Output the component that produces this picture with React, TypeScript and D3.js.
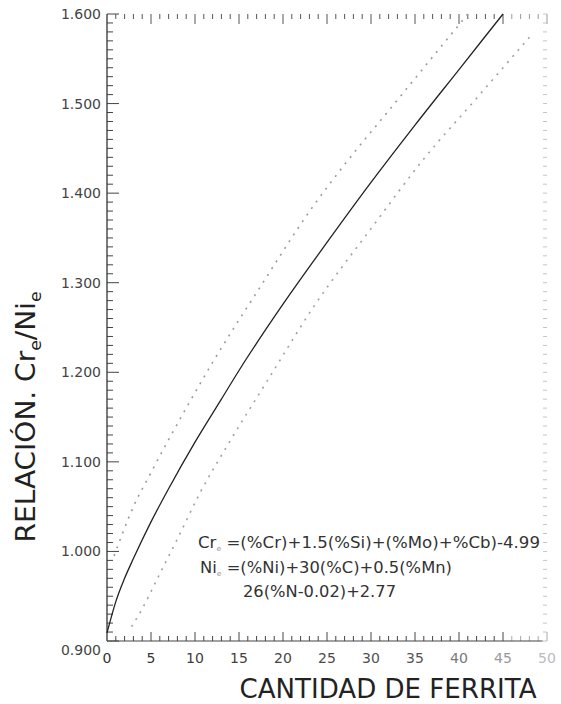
import React, { useRef, useEffect } from "react";
import * as d3 from "d3";

// Curva media y límites (cantidad de ferrita vs relación Cre/Nie)
const mediaX = [0, 1, 2, 3, 5, 7, 10, 13, 15, 20, 25, 30, 35, 40, 45];
const mediaY = [0.909, 0.944, 0.97, 0.992, 1.033, 1.07, 1.122, 1.17, 1.202, 1.276, 1.345, 1.412, 1.476, 1.538, 1.6];

const superiorX = [0.8, 3, 5, 9, 12, 17, 23.4, 27, 32, 36, 41];
const superiorY = [0.995, 1.05, 1.088, 1.16, 1.211, 1.289, 1.385, 1.432, 1.492, 1.54, 1.6];

const inferiorX = [2.8, 4, 6, 8, 10.6, 13.6, 18.5, 23.4, 30.2, 35.9, 42, 48];
const inferiorY = [0.916, 0.936, 0.975, 1.014, 1.066, 1.117, 1.195, 1.272, 1.363, 1.437, 1.506, 1.574];

const xTickLabels = [0, 5, 10, 15, 20, 25, 30, 35, 40, 45, 50];
const yTickLabels = [0.9, 1.0, 1.1, 1.2, 1.3, 1.4, 1.5, 1.6];

const formulaLines = [
  { main: "Cr", sub: "e", rest: " =(%Cr)+1.5(%Si)+(%Mo)+%Cb)-4.99" },
  { main: "Ni", sub: "e", rest: " =(%Ni)+30(%C)+0.5(%Mn)" },
  { main: "", sub: "", rest: "26(%N-0.02)+2.77" },
];

const FONT = "'DejaVu Sans', sans-serif";

const FerritaChart = ({ width = 561, height = 704 }) => {
  const ref = useRef<SVGSVGElement>(null);

  useEffect(() => {
    const container = ref.current;
    if (!container) return;
    d3.select(container).selectChildren().remove();

    const margin = { top: 14, left: 107, right: 14, bottom: 63 };
    const x = d3.scaleLinear().domain([0, 50]).range([margin.left, width - margin.right]);
    const y = d3.scaleLinear().domain([0.9, 1.6]).range([height - margin.bottom, margin.top]);

    const svg = d3.select(container).append("g").style("font-family", FONT);

    // Marcas eje X (abajo y arriba)
    const xt = x.ticks(50);
    svg
      .append("g")
      .selectAll("line")
      .data(xt.filter((d) => d > 0))
      .join("line")
      .attr("x1", (d) => x(d))
      .attr("x2", (d) => x(d))
      .attr("y1", y(0.9))
      .attr("y2", (d) => y(0.9) - (d % 5 === 0 ? 9 : 5))
      .attr("stroke", (d) => (d > 45 ? "#aaa" : "#444"))
      .attr("stroke-width", 1);

    svg
      .append("g")
      .selectAll("line")
      .data(xt.filter((d) => d > 0))
      .join("line")
      .attr("x1", (d) => x(d))
      .attr("x2", (d) => x(d))
      .attr("y1", y(1.6))
      .attr("y2", (d) => y(1.6) + (d % 5 === 0 ? 10 : 5))
      .attr("stroke", (d) => (d > 45 ? "#999" : "#555"))
      .attr("stroke-width", 1);

    // Marcas eje Y (izquierda y derecha)
    const yt = y.ticks(70);
    svg
      .append("g")
      .selectAll("line")
      .data(yt)
      .join("line")
      .attr("x1", x(0))
      .attr("x2", (d) => x(0) + (Math.round(d * 100) % 10 === 0 ? 12 : 6))
      .attr("y1", (d) => y(d))
      .attr("y2", (d) => y(d))
      .attr("stroke", "#444")
      .attr("stroke-width", 1);

    svg
      .append("g")
      .selectAll("line")
      .data(yt)
      .join("line")
      .attr("x1", x(50))
      .attr("x2", x(50) - 4)
      .attr("y1", (d) => y(d))
      .attr("y2", (d) => y(d))
      .attr("stroke", "#c4c4c4")
      .attr("stroke-width", 1);

    // Líneas de ejes
    svg
      .append("line")
      .attr("x1", x(0))
      .attr("x2", x(0))
      .attr("y1", y(1.6))
      .attr("y2", y(0.9))
      .attr("stroke", "#333")
      .attr("stroke-width", 1.3);
    svg
      .append("line")
      .attr("x1", x(0))
      .attr("x2", x(49.5))
      .attr("y1", y(0.9))
      .attr("y2", y(0.9))
      .attr("stroke", "#444")
      .attr("stroke-width", 1.2);

    // Rótulos de marcas
    const xColor = d3.scaleLinear<string>().domain([0, 35, 50]).range(["#333", "#555", "#bbb"]);
    svg
      .append("g")
      .selectAll("text")
      .data(xTickLabels)
      .join("text")
      .attr("x", (d) => x(d))
      .attr("y", y(0.9) + 22)
      .attr("text-anchor", "middle")
      .attr("font-size", 14)
      .attr("fill", (d) => xColor(d))
      .text((d) => d);

    svg
      .append("g")
      .selectAll("text")
      .data(yTickLabels)
      .join("text")
      .attr("x", x(0) - 6)
      .attr("y", (d) => y(d) + (d === 0.9 ? 9 : 0))
      .attr("dy", "0.36em")
      .attr("text-anchor", "end")
      .attr("font-size", 14)
      .attr("fill", "#444")
      .text((d) => d3.format(".3f")(d));

    // Curvas
    const line = d3
      .line<[number, number]>()
      .x((d) => x(d[0]))
      .y((d) => y(d[1]))
      .curve(d3.curveMonotoneX);

    const curves = [
      { xs: superiorX, ys: superiorY, color: "#9a9a9a", dash: "2,6", w: 1.6 },
      { xs: inferiorX, ys: inferiorY, color: "#a0a0a0", dash: "2,6", w: 1.6 },
      { xs: mediaX, ys: mediaY, color: "#222", dash: null, w: 1.3 },
    ];
    curves.forEach((c) => {
      svg
        .append("path")
        .datum(c.xs.map((v, i) => [v, c.ys[i]] as [number, number]))
        .attr("d", line)
        .attr("fill", "none")
        .attr("stroke", c.color)
        .attr("stroke-width", c.w)
        .attr("stroke-dasharray", c.dash);
    });

    // Fórmulas
    const formulaPos = [
      { x: 198, y: 548, len: 342 },
      { x: 200, y: 573, len: 252 },
      { x: 243, y: 597, len: 153 },
    ];
    formulaLines.forEach((f, i) => {
      const p = formulaPos[i];
      const t = svg
        .append("text")
        .attr("x", p.x)
        .attr("y", p.y)
        .attr("font-size", 15)
        .attr("fill", "#333")
        .attr("textLength", p.len)
        .attr("lengthAdjust", "spacingAndGlyphs");
      if (f.main) {
        t.append("tspan").text(f.main);
        t.append("tspan").text(f.sub).attr("font-size", 7).attr("dy", 3).attr("fill", "#999");
        t.append("tspan").text(f.rest).attr("dy", -3);
      } else {
        t.append("tspan").text(f.rest);
      }
    });

    // Rótulo eje X
    svg
      .append("text")
      .attr("x", 388)
      .attr("y", 698)
      .attr("text-anchor", "middle")
      .attr("font-size", 26)
      .attr("fill", "#222")
      .attr("textLength", 297)
      .attr("lengthAdjust", "spacingAndGlyphs")
      .text("CANTIDAD DE FERRITA");

    // Rótulo eje Y (girado)
    const yl = svg
      .append("text")
      .attr("transform", "translate(35, 417) rotate(-90)")
      .attr("text-anchor", "middle")
      .attr("font-size", 26)
      .attr("fill", "#222")
      .attr("textLength", 251)
      .attr("lengthAdjust", "spacingAndGlyphs");
    yl.append("tspan").text("RELACIÓN. Cr");
    yl.append("tspan").text("e").attr("font-size", 16).attr("dy", 6);
    yl.append("tspan").text("/Ni").attr("dy", -6);
    yl.append("tspan").text("e").attr("font-size", 16).attr("dy", 6);
  }, [width, height]);

  return <svg ref={ref} width={width} height={height} style={{ display: "block" }} />;
};

export default function App() {
  return (
    <div style={{ position: "absolute", left: 0, top: 0, background: "#fff" }}>
      <FerritaChart />
    </div>
  );
}
